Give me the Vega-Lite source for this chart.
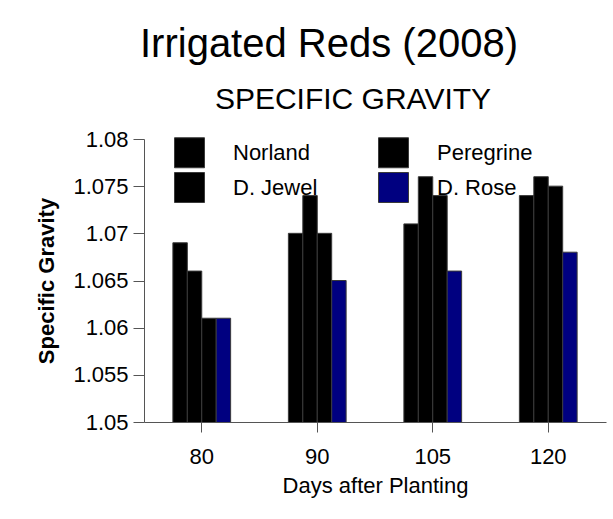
{
  "$schema": "https://vega.github.io/schema/vega-lite/v6.json",
  "padding": {"left": 35, "top": 25, "right": 8, "bottom": 20},
  "background": "white",
  "title": {"text": "Irrigated Reds (2008)", "font": "Liberation Sans", "fontSize": 40, "fontWeight": "normal", "color": "black", "anchor": "middle", "dx": 8, "offset": 20},
  "vconcat": [
    {
      "title": {"text": "SPECIFIC GRAVITY", "font": "Liberation Sans", "fontSize": 30, "fontWeight": "normal", "color": "black", "anchor": "middle", "dx": -22, "offset": 13},
      "width": 462,
      "height": 283,
      "data": {"values": [
        {"days": 80, "variety": "Norland", "sg": 1.069},
        {"days": 80, "variety": "Peregrine", "sg": 1.066},
        {"days": 80, "variety": "D. Jewel", "sg": 1.061},
        {"days": 80, "variety": "D. Rose", "sg": 1.061},
        {"days": 90, "variety": "Norland", "sg": 1.070},
        {"days": 90, "variety": "Peregrine", "sg": 1.074},
        {"days": 90, "variety": "D. Jewel", "sg": 1.070},
        {"days": 90, "variety": "D. Rose", "sg": 1.065},
        {"days": 105, "variety": "Norland", "sg": 1.071},
        {"days": 105, "variety": "Peregrine", "sg": 1.076},
        {"days": 105, "variety": "D. Jewel", "sg": 1.074},
        {"days": 105, "variety": "D. Rose", "sg": 1.066},
        {"days": 120, "variety": "Norland", "sg": 1.074},
        {"days": 120, "variety": "Peregrine", "sg": 1.076},
        {"days": 120, "variety": "D. Jewel", "sg": 1.075},
        {"days": 120, "variety": "D. Rose", "sg": 1.068}
      ]},
      "mark": {"type": "bar", "stroke": "#3a3a3a", "strokeWidth": 1, "opacity": 1, "clip": true},
      "encoding": {
        "x": {"field": "days", "type": "ordinal", "scale": {"paddingInner": 0.5, "paddingOuter": 0.25},
          "axis": {"title": "Days after Planting", "labelAngle": 0, "tickSize": 10, "labelPadding": 14, "titlePadding": 8,
            "titleFontWeight": "normal", "titleFontSize": 22, "labelFontSize": 22}},
        "xOffset": {"field": "variety", "type": "nominal", "sort": ["Norland", "Peregrine", "D. Jewel", "D. Rose"]},
        "y": {"field": "sg", "type": "quantitative", "scale": {"domain": [1.05, 1.08], "nice": false, "zero": false},
          "axis": {"title": "Specific Gravity", "values": [1.05, 1.055, 1.06, 1.065, 1.07, 1.075, 1.08], "format": "~g",
            "tickSize": 11, "labelPadding": 5, "titlePadding": 14, "titleFontWeight": "bold", "titleFontSize": 22, "labelFontSize": 22}},
        "color": {"field": "variety", "type": "nominal",
          "scale": {"domain": ["Norland", "D. Jewel", "Peregrine", "D. Rose"], "range": ["#000000", "#000000", "#000000", "#000080"]},
          "legend": {"orient": "none", "legendX": 30, "legendY": -2, "columns": 2, "title": null,
            "symbolType": "square", "symbolSize": 900, "symbolStrokeColor": "#3a3a3a", "symbolStrokeWidth": 1, "symbolOpacity": 1,
            "labelFont": "Liberation Sans", "labelFontSize": 22, "labelColor": "black", "labelOffset": 28,
            "columnPadding": 58, "rowPadding": 0, "padding": 0}}
      }
    }
  ],
  "resolve": {"scale": {"color": "independent"}, "legend": {"color": "independent"}},
  "config": {
    "font": "Liberation Sans",
    "view": {"stroke": null},
    "axis": {"grid": false, "domainColor": "#555555", "tickColor": "#555555", "labelColor": "black", "titleColor": "black",
      "labelFont": "Liberation Sans", "titleFont": "Liberation Sans", "domainWidth": 1, "tickWidth": 1}
  }
}
